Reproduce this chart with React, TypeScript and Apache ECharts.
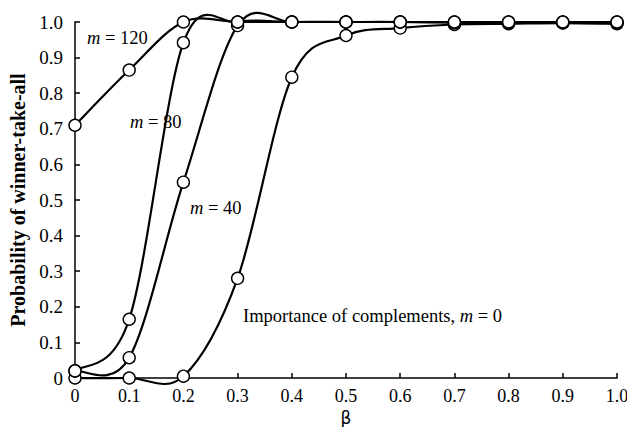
import React, { useEffect, useRef } from "react";
import * as echarts from "echarts";

const betas = [0, 0.1, 0.2, 0.3, 0.4, 0.5, 0.6, 0.7, 0.8, 0.9, 1.0];
const m120 = [0.71, 0.865, 1.0, 1.0, 1.0, 1.0, 1.0, 1.0, 1.0, 1.0, 1.0];
const m80 = [0.02, 0.165, 0.942, 1.0, 1.0, 1.0, 1.0, 1.0, 1.0, 1.0, 1.0];
const m40 = [0.02, 0.057, 0.55, 0.99, 1.0, 1.0, 1.0, 0.998, 0.998, 0.998, 0.998];
const m0 = [0, 0, 0.005, 0.28, 0.845, 0.962, 0.983, 0.993, 0.995, 0.997, 0.995];
const seriesNames = ["m = 120", "m = 80", "m = 40", "m = 0"];
const tickLabels = ["0", "0.1", "0.2", "0.3", "0.4", "0.5", "0.6", "0.7", "0.8", "0.9", "1.0"];

const FONT = "Liberation Serif";

// segments: each item holds point i, i+1 and the neighbours used for Catmull-Rom smoothing
function segments(vals: number[]) {
  const n = vals.length;
  const out: number[][] = [];
  for (let i = 0; i < n - 1; i++) {
    const p = Math.max(i - 1, 0);
    const q = Math.min(i + 2, n - 1);
    out.push([betas[i], vals[i], betas[i + 1], vals[i + 1], betas[p], vals[p], betas[q], vals[q]]);
  }
  return out;
}

export default function App() {
  const ref = useRef<HTMLDivElement>(null);
  useEffect(() => {
    const chart = echarts.init(ref.current!, null, { renderer: "svg" });
    const renderItem = (params: any, api: any) => {
      const p1 = api.coord([api.value(0), api.value(1)]);
      const p2 = api.coord([api.value(2), api.value(3)]);
      const p0 = api.coord([api.value(4), api.value(5)]);
      const p3 = api.coord([api.value(6), api.value(7)]);
      const t = 1 / 6;
      return {
        type: "bezierCurve",
        shape: {
          x1: p1[0],
          y1: p1[1],
          x2: p2[0],
          y2: p2[1],
          cpx1: p1[0] + (p2[0] - p0[0]) * t,
          cpy1: p1[1] + (p2[1] - p0[1]) * t,
          cpx2: p2[0] - (p3[0] - p1[0]) * t,
          cpy2: p2[1] - (p3[1] - p1[1]) * t,
        },
        style: { stroke: "#000", lineWidth: 2.2, fill: null },
        silent: true,
      };
    };
    const curve = (name: string, vals: number[]) => ({
      name,
      type: "custom",
      renderItem,
      data: segments(vals),
      encode: { x: [0, 2], y: [1, 3] },
      clip: false,
      z: 2,
    });
    const dots = (name: string, vals: number[]) => ({
      name,
      type: "scatter",
      data: betas.map((b, i) => [b, vals[i]]),
      symbol: "circle",
      symbolSize: 12,
      itemStyle: { color: "#fff", borderColor: "#000", borderWidth: 1.4, opacity: 1 },
      z: 3,
    });
    const fmt = (v: number) => tickLabels[Math.round(v * 10)] ?? String(v);
    const rich = { i: { fontStyle: "italic", fontFamily: FONT, fontSize: 18.5, fill: "#000" } };
    const txt = (x: number, y: number, text: string) => ({
      type: "text",
      x,
      y,
      style: { text, fontFamily: FONT, fontSize: 18.5, fill: "#000", rich, verticalAlign: "middle" },
    });
    const all = [
      [seriesNames[3], m0],
      [seriesNames[2], m40],
      [seriesNames[1], m80],
      [seriesNames[0], m120],
    ] as [string, number[]][];
    chart.setOption({
      animation: false,
      grid: { left: 75, right: 10, top: 22, bottom: 49, outerBoundsMode: "none", containLabel: false },
      xAxis: {
        type: "value",
        min: 0,
        max: 1,
        interval: 0.1,
        name: "β",
        nameLocation: "middle",
        nameGap: 28,
        nameTextStyle: { fontFamily: "DejaVu Sans", fontSize: 17, color: "#000" },
        axisLine: { lineStyle: { color: "#000", width: 1.5 } },
        axisTick: { inside: true, length: 5, lineStyle: { color: "#000", width: 1.5 } },
        axisLabel: { formatter: fmt, fontFamily: FONT, fontSize: 18, color: "#000", margin: 9 },
        splitLine: { show: false },
      },
      yAxis: {
        type: "value",
        min: 0,
        max: 1,
        interval: 0.1,
        name: "Probability of winner-take-all",
        nameLocation: "middle",
        nameGap: 46,
        nameTextStyle: { fontFamily: FONT, fontSize: 20, fontWeight: "bold", color: "#000" },
        axisLine: { show: true, lineStyle: { color: "#000", width: 1.5 } },
        axisTick: { show: true, inside: true, length: 5, lineStyle: { color: "#000", width: 1.5 } },
        axisLabel: { formatter: fmt, fontFamily: FONT, fontSize: 19, color: "#000", margin: 12 },
        splitLine: { show: false },
      },
      series: [...all.map(([n, v]) => curve(n, v)), ...all.map(([n, v]) => dots(n, v))],
      graphic: [
        txt(87, 38, "{i|m} = 120"),
        txt(130, 122, "{i|m} = 80"),
        txt(190, 208, "{i|m} = 40"),
        txt(243, 316, "Importance of complements, {i|m} = 0"),
      ],
    });
    return () => chart.dispose();
  }, []);
  return <div ref={ref} style={{ width: 627, height: 427, position: "absolute", left: 0, top: 0 }} />;
}
